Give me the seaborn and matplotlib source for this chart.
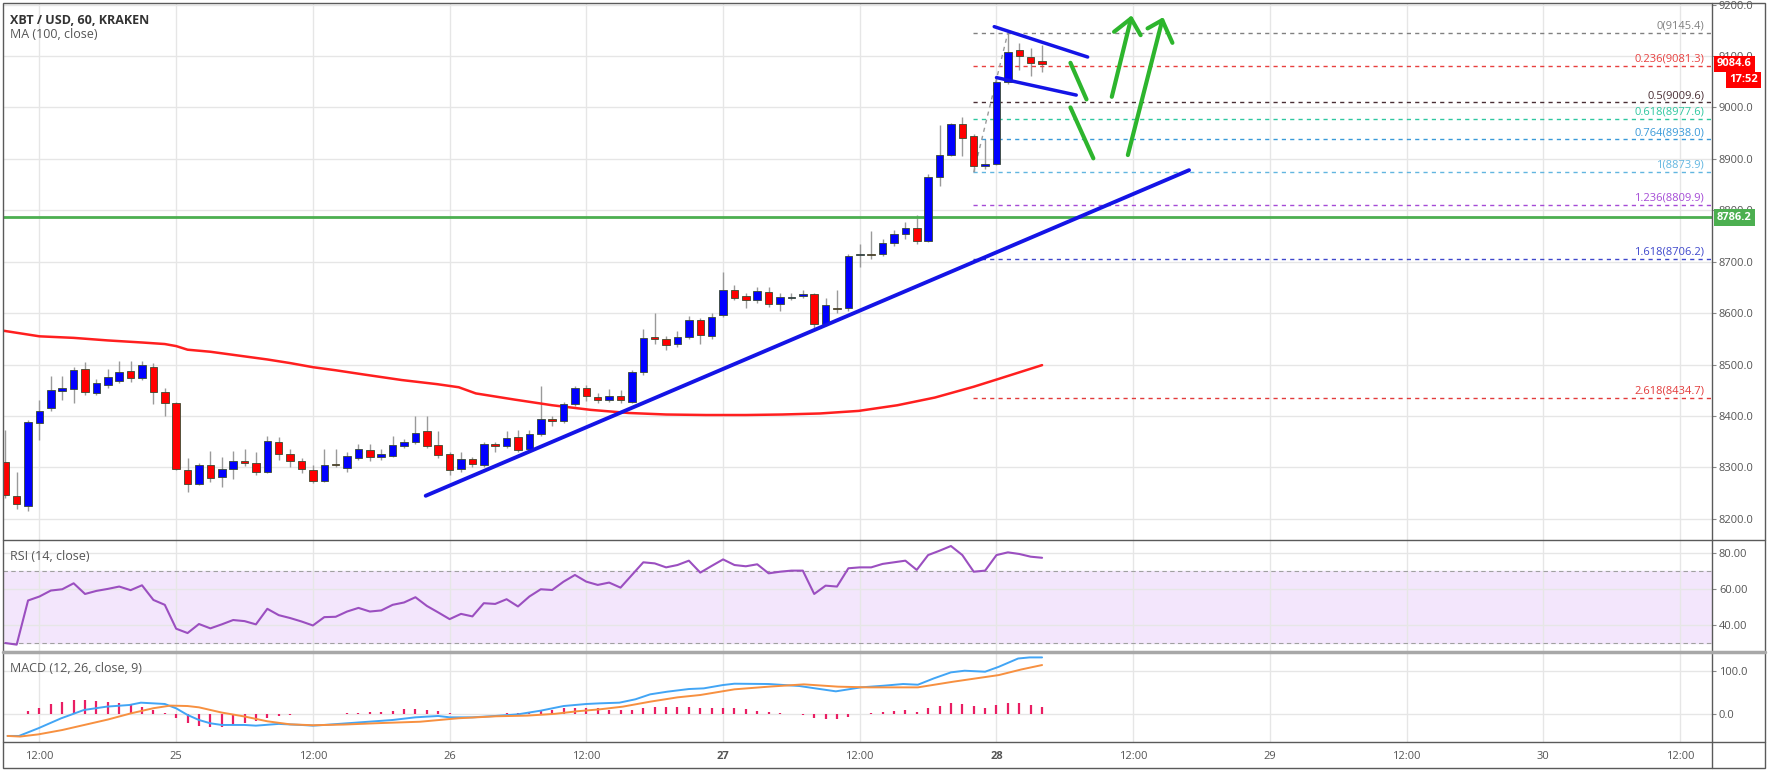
import matplotlib
matplotlib.use("Agg")
import matplotlib.pyplot as plt
import matplotlib.transforms as mtransforms
from matplotlib.lines import Line2D
from matplotlib.patches import Rectangle
import numpy as np
import pandas as pd
import seaborn as sns

# ---------------- data (hours since 25 Nov 00:00, hourly candles) ----------------
hours = list(range(-15, 77))
opens = [8310, 8245, 8225, 8387, 8415, 8449, 8452, 8491, 8445, 8460, 8468, 8487, 8474, 8495, 8446,
         8426, 8295, 8268, 8304, 8281, 8297, 8312, 8308, 8291, 8349, 8327, 8312, 8295, 8274, 8307,
         8299, 8319, 8334, 8321, 8323, 8342, 8349, 8371, 8343, 8326, 8297, 8316, 8304, 8345, 8341,
         8360, 8336, 8366, 8394, 8391, 8423, 8455, 8437, 8431, 8439, 8428, 8485, 8554, 8550, 8541,
         8554, 8587, 8555, 8597, 8645, 8634, 8625, 8641, 8618, 8630, 8634, 8637, 8579, 8611, 8610,
         8713, 8716, 8715, 8737, 8753, 8765, 8741, 8865, 8908, 8967, 8945, 8887, 8890, 9050, 9111,
         9098, 9090]
highs = [8372, 8291, 8392, 8432, 8477, 8477, 8495, 8505, 8472, 8492, 8507, 8507, 8507, 8503, 8455,
         8428, 8318, 8308, 8333, 8320, 8333, 8335, 8330, 8362, 8360, 8335, 8318, 8305, 8335, 8335,
         8330, 8345, 8345, 8335, 8362, 8356, 8400, 8400, 8370, 8330, 8330, 8320, 8350, 8350, 8370,
         8372, 8372, 8458, 8400, 8428, 8458, 8460, 8445, 8452, 8450, 8490, 8570, 8600, 8555, 8565,
         8595, 8590, 8600, 8680, 8655, 8640, 8650, 8650, 8640, 8640, 8645, 8640, 8630, 8645, 8715,
         8735, 8760, 8745, 8762, 8778, 8790, 8870, 8966, 8970, 8981, 8948, 8939, 9060, 9145.4, 9126,
         9116, 9122]
lows = [8240, 8219, 8215, 8354, 8410, 8431, 8425, 8440, 8440, 8455, 8465, 8467, 8470, 8423, 8400,
        8295, 8252, 8265, 8272, 8262, 8278, 8302, 8285, 8290, 8315, 8300, 8290, 8270, 8272, 8300,
        8292, 8315, 8313, 8315, 8320, 8338, 8345, 8338, 8318, 8285, 8292, 8300, 8300, 8330, 8338,
        8330, 8333, 8362, 8380, 8386, 8420, 8430, 8425, 8428, 8425, 8426, 8480, 8540, 8528, 8535,
        8550, 8540, 8550, 8592, 8625, 8610, 8620, 8612, 8605, 8625, 8630, 8570, 8575, 8600, 8605,
        8690, 8705, 8712, 8730, 8745, 8735, 8738, 8848, 8905, 8906, 8873.9, 8880, 8888, 9045, 9073,
        9061, 9068]
closes = [8246, 8229, 8389, 8410, 8450, 8454, 8489, 8447, 8465, 8475, 8486, 8474, 8499, 8447, 8426,
          8297, 8268, 8304, 8279, 8297, 8312, 8308, 8292, 8352, 8326, 8312, 8297, 8274, 8305, 8304,
          8323, 8335, 8321, 8326, 8343, 8350, 8367, 8342, 8325, 8295, 8316, 8306, 8345, 8341, 8358,
          8334, 8365, 8394, 8391, 8423, 8454, 8439, 8431, 8439, 8431, 8485, 8552, 8550, 8539, 8554,
          8587, 8557, 8592, 8645, 8630, 8626, 8643, 8618, 8631, 8632, 8637, 8579, 8615, 8608, 8712,
          8716, 8713, 8737, 8753, 8765, 8741, 8865, 8908, 8967, 8941, 8886, 8890, 9050, 9108, 9099,
          9087, 9084.6]

ma_hours = [-15.2, -12, -9, -6, -3, -1, 0, 1, 3, 5, 8, 10, 12, 14, 16.4, 19.8, 22.9, 24.8, 26.3,
            28, 29.7, 33, 36.4, 39.7, 43, 46.5, 50, 53.2, 56.5, 59.9, 63.3, 66.6, 70, 72.3, 76]
ma_values = [8566, 8555, 8552, 8547, 8543, 8540, 8536, 8529, 8525, 8519, 8510, 8503, 8495, 8489,
             8481, 8470, 8462, 8456, 8444, 8438, 8432, 8421, 8412, 8406, 8403, 8402, 8402, 8403,
             8405, 8410, 8421, 8436, 8457, 8473, 8499]

rsi_values = [30.1, 29.2, 53.6, 55.8, 59.1, 59.8, 63.1, 57.2, 58.9, 60, 61.3, 59.3, 62, 53.9, 51.2,
              38, 35.6, 40.6, 38.2, 40.4, 42.8, 42.2, 40.4, 49, 45.5, 43.9, 42, 39.8, 44.4, 44.6,
              47.5, 49.5, 47.5, 48.1, 51.2, 52.5, 55.4, 50.6, 47, 43.3, 46.2, 44.8, 52.1, 51.7, 54.3,
              50.3, 55.8, 59.8, 59.4, 64, 67.7, 64, 62.2, 63.5, 60.7, 67.7, 74.7, 74.1, 71.9, 73.2,
              75.6, 69, 72.7, 76.3, 73.2, 72.5, 73.6, 68.6, 69.5, 70.1, 70.1, 57.2, 61.8, 61.3, 71.4,
              71.9, 71.9, 73.8, 74.7, 75.6, 70.5, 78.7, 81.1, 83.7, 78.7, 69.5, 70.1, 78.7, 80.2, 79.3,
              77.8, 77.2]

macd_hours = [-14.8, -13.8, -12.1, -10.1, -8.1, -6.1, -4.1, -3.1, -1.0, 0, 1, 2, 3, 4, 6, 7, 9, 11,
              12, 13, 15, 17, 19, 21, 23, 24, 26, 28, 30, 32, 34, 36, 37.2, 38.9, 40.3, 41.6, 43.1,
              45, 46.3, 48, 49, 52, 54.7, 56.1, 57.9, 60.1, 62.1, 63.8, 65.1, 66.5, 68, 69.2, 71,
              72.2, 73.9, 74.9, 76]
macd_values = [-49.6, -49.6, -32, -9.2, 9.9, 17.6, 21.4, 26.7, 23.7, 13.7, -1.5, -13, -20.6, -24.4,
               -24.4, -26, -22, -24.4, -26, -24.4, -20.6, -16.8, -13, -6.9, -3.8, -6.9, -6.9, -3.8,
               0, 8.4, 19, 23.7, 25.2, 26.7, 34.4, 45.8, 51.9, 58, 59.5, 67.2, 70.2, 69.5, 64.9,
               59.5, 52.7, 61.8, 65.6, 69.5, 67.9, 82.4, 96.2, 100, 97.7, 109, 128, 130.5, 130.5]
signal_hours = [-14.8, -13.7, -12.1, -10, -8, -6, -4, -2, -0.5, 1, 2, 4, 6, 8, 10, 12, 14.7, 18,
                21.4, 24.8, 28.1, 30.8, 33.2, 35.2, 37.2, 39.2, 41.6, 44, 46, 49, 52, 55.1, 58.1,
                60.8, 65.1, 68.2, 72.2, 74.2, 76]
signal_values = [-49.6, -51, -46, -36, -24, -12, 2, 14, 20, 19, 16, 4, -5, -16, -23, -25, -23.5,
                 -20, -17, -9, -4.5, -3, 1, 7, 11.5, 17.6, 29, 38.9, 44.3, 57.3, 63.4, 68.7, 63.4,
                 61.8, 61.8, 74.8, 90, 103, 113]
hist_hours = list(range(-13, 77))
hist_values = [8.4, 15.3, 23.7, 29, 32.8, 32.8, 30.5, 27.5, 25.2, 23.7, 17.6, 9.9, 3.8, -9.2, -20.6,
               -26, -28.2, -28.2, -24.4, -20.6, -15.3, -7.6, -3, -1, 0, 0.5, 0.5, 1, 2.3, 3.8, 6.1,
               6.1, 8.4, 11.5, 11.5, 9.9, 8.4, 3.8, 1.5, 0.5, 0.5, 1.5, 3.8, 3.8, 6.1, 8.4, 9.9,
               13.7, 15.3, 15.3, 15.3, 9.9, 9.9, 9.9, 15.3, 17.6, 17.6, 17.6, 17.6, 15.3, 13.7, 15.3,
               13.7, 11.5, 7.6, 5.3, 2.3, 0.5, -1.5, -9.2, -10.7, -11.5, -5.3, 0.5, 2.3, 5.3, 8.4,
               9.9, 6.1, 13.7, 19, 25.2, 23.7, 19, 15.3, 21.4, 26.7, 26.7, 21.4, 17.6]

fib_ratios = ["0", "0.236", "0.5", "0.618", "0.764", "1", "1.236", "1.618", "2.618"]
fib_prices = [9145.4, 9081.3, 9009.6, 8977.6, 8938.0, 8873.9, 8809.9, 8706.2, 8434.7]
fib_colors = ["#808080", "#e8403f", "#4a2f35", "#2fc7a0", "#3a9ad9", "#62b6e0", "#a54bd6",
              "#3f48cc", "#e33b3b"]
fib_start_hour = 69.9
fib_anchor_hours = [70, 73]
fib_anchor_prices = [8873.9, 9145.4]

support_level = 8786.2
last_price = 9084.6
countdown = "17:52"

trend_hours = [21.9, 88.9]
trend_prices = [8245, 8878]
wedge_up_hours = [71.8, 80.0]
wedge_up_prices = [9157, 9098]
wedge_lo_hours = [72.0, 79.0]
wedge_lo_prices = [9058, 9024]
green_paths = [
    ([78.49, 79.90], [9086.7, 9015.6]),
    ([78.49, 80.50], [9000.0, 8901.0]),
    ([82.12, 83.81], [9020.6, 9173.0]),
    ([82.32, 83.81, 84.65], [9147.0, 9173.0, 9140.5]),
    ([83.53, 86.55], [8907.4, 9169.7]),
    ([85.26, 86.55, 87.44], [9153.6, 9169.7, 9125.6]),
]

tick_hours = list(range(-12, 133, 12))
tick_labels = ["12:00", "25", "12:00", "26", "12:00", "27", "12:00", "28", "12:00", "29",
               "12:00", "30", "12:00"]
price_ticks = list(range(8200, 9201, 100))
rsi_ticks = [40, 60, 80]
macd_ticks = [0, 100]

# ---------------- figure ----------------
sns.set_theme(style="white")
plt.rcParams['font.family'] = ['Open Sans', 'DejaVu Sans']

W, H = 1770, 772
fig = plt.figure(figsize=(W / 100, H / 100), dpi=100, facecolor='white')


def fbox(x0, y0, x1, y1):
    return [x0 / W, 1 - y1 / H, (x1 - x0) / W, (y1 - y0) / H]


ax_p = fig.add_axes(fbox(3, 3, 1712, 539.5))
ax_r = fig.add_axes(fbox(3, 539.5, 1712, 651.7), sharex=ax_p)
ax_m = fig.add_axes(fbox(3, 651.7, 1712, 741.7), sharex=ax_p)

for ax in (ax_p, ax_r, ax_m):
    ax.set_facecolor('white')
    ax.grid(True, color='#e6e6e6', lw=1)
    ax.set_axisbelow(True)
    for s in ax.spines.values():
        s.set_visible(False)
    ax.yaxis.tick_right()
    ax.tick_params(axis='y', direction='out', length=3, width=0.8, colors='#888',
                   labelcolor='#555', labelsize=8, pad=2)
    ax.tick_params(axis='x', length=0, labelbottom=False)

ax_p.set_xlim(-15.2, 134.8)
ax_m.set_xticks(tick_hours)
ax_m.set_xticklabels(tick_labels)
ax_m.tick_params(axis='x', labelbottom=True, length=3, direction='out', colors='#888',
                 labelcolor='#555', labelsize=8, pad=4)
for lab, txt in zip(ax_m.get_xticklabels(), tick_labels):
    if txt in ("27", "28"):
        lab.set_fontweight('bold')

# price panel
ax_p.set_ylim(8160, 9203)
ax_p.set_yticks(price_ticks)
ax_p.set_yticklabels([f"{v:.1f}" for v in price_ticks])

df = pd.DataFrame(dict(hour=hours, open=opens, high=highs, low=lows, close=closes))
up = (df.close >= df.open).values
ax_p.vlines(df.hour, df.low, df.high, color='#9a9a9a', lw=1, zorder=2)
body_bottom = np.minimum(df.open, df.close)
body_h = np.maximum(np.abs(df.close - df.open), 1.5)
ax_p.bar(df.hour, body_h, bottom=body_bottom, width=0.66,
         color=np.where(up, '#0000ff', '#ff0000'), edgecolor='#3a4a30', linewidth=0.6, zorder=3)

sns.lineplot(x=ma_hours, y=ma_values, ax=ax_p, color='#ff1f1f', lw=1.8, zorder=2.5)

ax_p.axhline(support_level, color='#4caf50', lw=2, zorder=2.6)

for r, p, c in zip(fib_ratios, fib_prices, fib_colors):
    ax_p.hlines(p, fib_start_hour, 134.8, colors=c, linestyles=(0, (3, 3)), lw=1, zorder=2.4)
    ax_p.text(134.1, p + 2.5, f"{r}({p:.1f})", color=c, fontsize=8, ha='right', va='bottom',
              zorder=4)
ax_p.plot(fib_anchor_hours, fib_anchor_prices, color='#9a9a9a', ls=(0, (3, 3)), lw=1, zorder=2.4)

ax_p.plot(trend_hours, trend_prices, color='#1414e6', lw=2.8, solid_capstyle='round', zorder=4)
ax_p.plot(wedge_up_hours, wedge_up_prices, color='#1414e6', lw=2.5, solid_capstyle='round', zorder=4)
ax_p.plot(wedge_lo_hours, wedge_lo_prices, color='#1414e6', lw=2.5, solid_capstyle='round', zorder=4)
for gx, gy in green_paths:
    ax_p.plot(gx, gy, color='#2db52d', lw=3, solid_capstyle='round', solid_joinstyle='round', zorder=4)

ax_p.legend_ = None

trans_p = mtransforms.blended_transform_factory(ax_p.transAxes, ax_p.transData)
box_kw = dict(xycoords=trans_p, textcoords='offset pixels', va='center', color='white',
              fontsize=8, fontweight='bold', annotation_clip=False, zorder=10)
ax_p.annotate(f"{last_price:.1f}", xy=(1, last_price), xytext=(5, 0), ha='left',
              bbox=dict(boxstyle='square,pad=0.25', fc='#ff0000', ec='none'), **box_kw)
ax_p.annotate(countdown, xy=(1, last_price), xytext=(46, -16), ha='right',
              bbox=dict(boxstyle='square,pad=0.25', fc='#ff0000', ec='none'), **box_kw)
ax_p.annotate(f"{support_level:.1f}", xy=(1, support_level), xytext=(5, 0), ha='left',
              bbox=dict(boxstyle='square,pad=0.25', fc='#4caf50', ec='none'), **box_kw)

# RSI panel
ax_r.set_ylim(25.3, 87.3)
ax_r.set_yticks(rsi_ticks)
ax_r.set_yticklabels([f"{v:.2f}" for v in rsi_ticks])
ax_r.axhspan(30, 70, color='#f3e6fc', zorder=0.5)
for lvl in (30, 70):
    ax_r.axhline(lvl, color='#a0a0a0', ls=(0, (4, 3)), lw=0.8, zorder=0.6)
sns.lineplot(x=hours, y=rsi_values, ax=ax_r, color='#9b4fc0', lw=1.5, zorder=3)

# MACD panel
ax_m.set_ylim(-62.8, 143.6)
ax_m.set_yticks(macd_ticks)
ax_m.set_yticklabels([f"{v:.1f}" for v in macd_ticks])
ax_m.vlines(hist_hours, 0, hist_values, color='#e91e63', lw=1.6, zorder=2)
sns.lineplot(x=macd_hours, y=macd_values, ax=ax_m, color='#42a5f5', lw=1.4, zorder=3)
sns.lineplot(x=signal_hours, y=signal_values, ax=ax_m, color='#f79040', lw=1.4, zorder=3)

for ax in (ax_p, ax_r, ax_m):
    ax.set_xlabel("")
    ax.set_ylabel("")

# labels
fig.text(10 / W, 1 - 20.7 / H, "XBT / USD, 60, KRAKEN", fontsize=9, fontweight='bold',
         color='#333333', va='center', ha='left')
fig.text(10 / W, 1 - 34.5 / H, "MA (100, close)", fontsize=9, color='#555555', va='center',
         ha='left')
fig.text(10 / W, 1 - 556 / H, "RSI (14, close)", fontsize=9, color='#555555', va='center', ha='left')
fig.text(10 / W, 1 - 668.5 / H, "MACD (12, 26, close, 9)", fontsize=9, color='#555555',
         va='center', ha='left')


# frame lines (pixel coordinates, top-left origin)
def fline(x0, y0, x1, y1, color='#5a5a5a', lw=1.0):
    fig.add_artist(Line2D([x0 / W, x1 / W], [1 - y0 / H, 1 - y1 / H], color=color, lw=lw,
                          transform=fig.transFigure, zorder=20))


fig.add_artist(Rectangle((3 / W, 1 - 768 / H), 1762 / W, 765 / H, fill=False, ec='#5a5a5a',
                         lw=1, transform=fig.transFigure, zorder=20))
fline(1712, 3, 1712, 768)
fline(3, 539.5, 1765, 539.5)
fline(3, 651.7, 1765, 651.7, color='#a8a8a8', lw=2.5)
fline(3, 741.7, 1765, 741.7)

fig.savefig("out.png", dpi=100, facecolor='white')
